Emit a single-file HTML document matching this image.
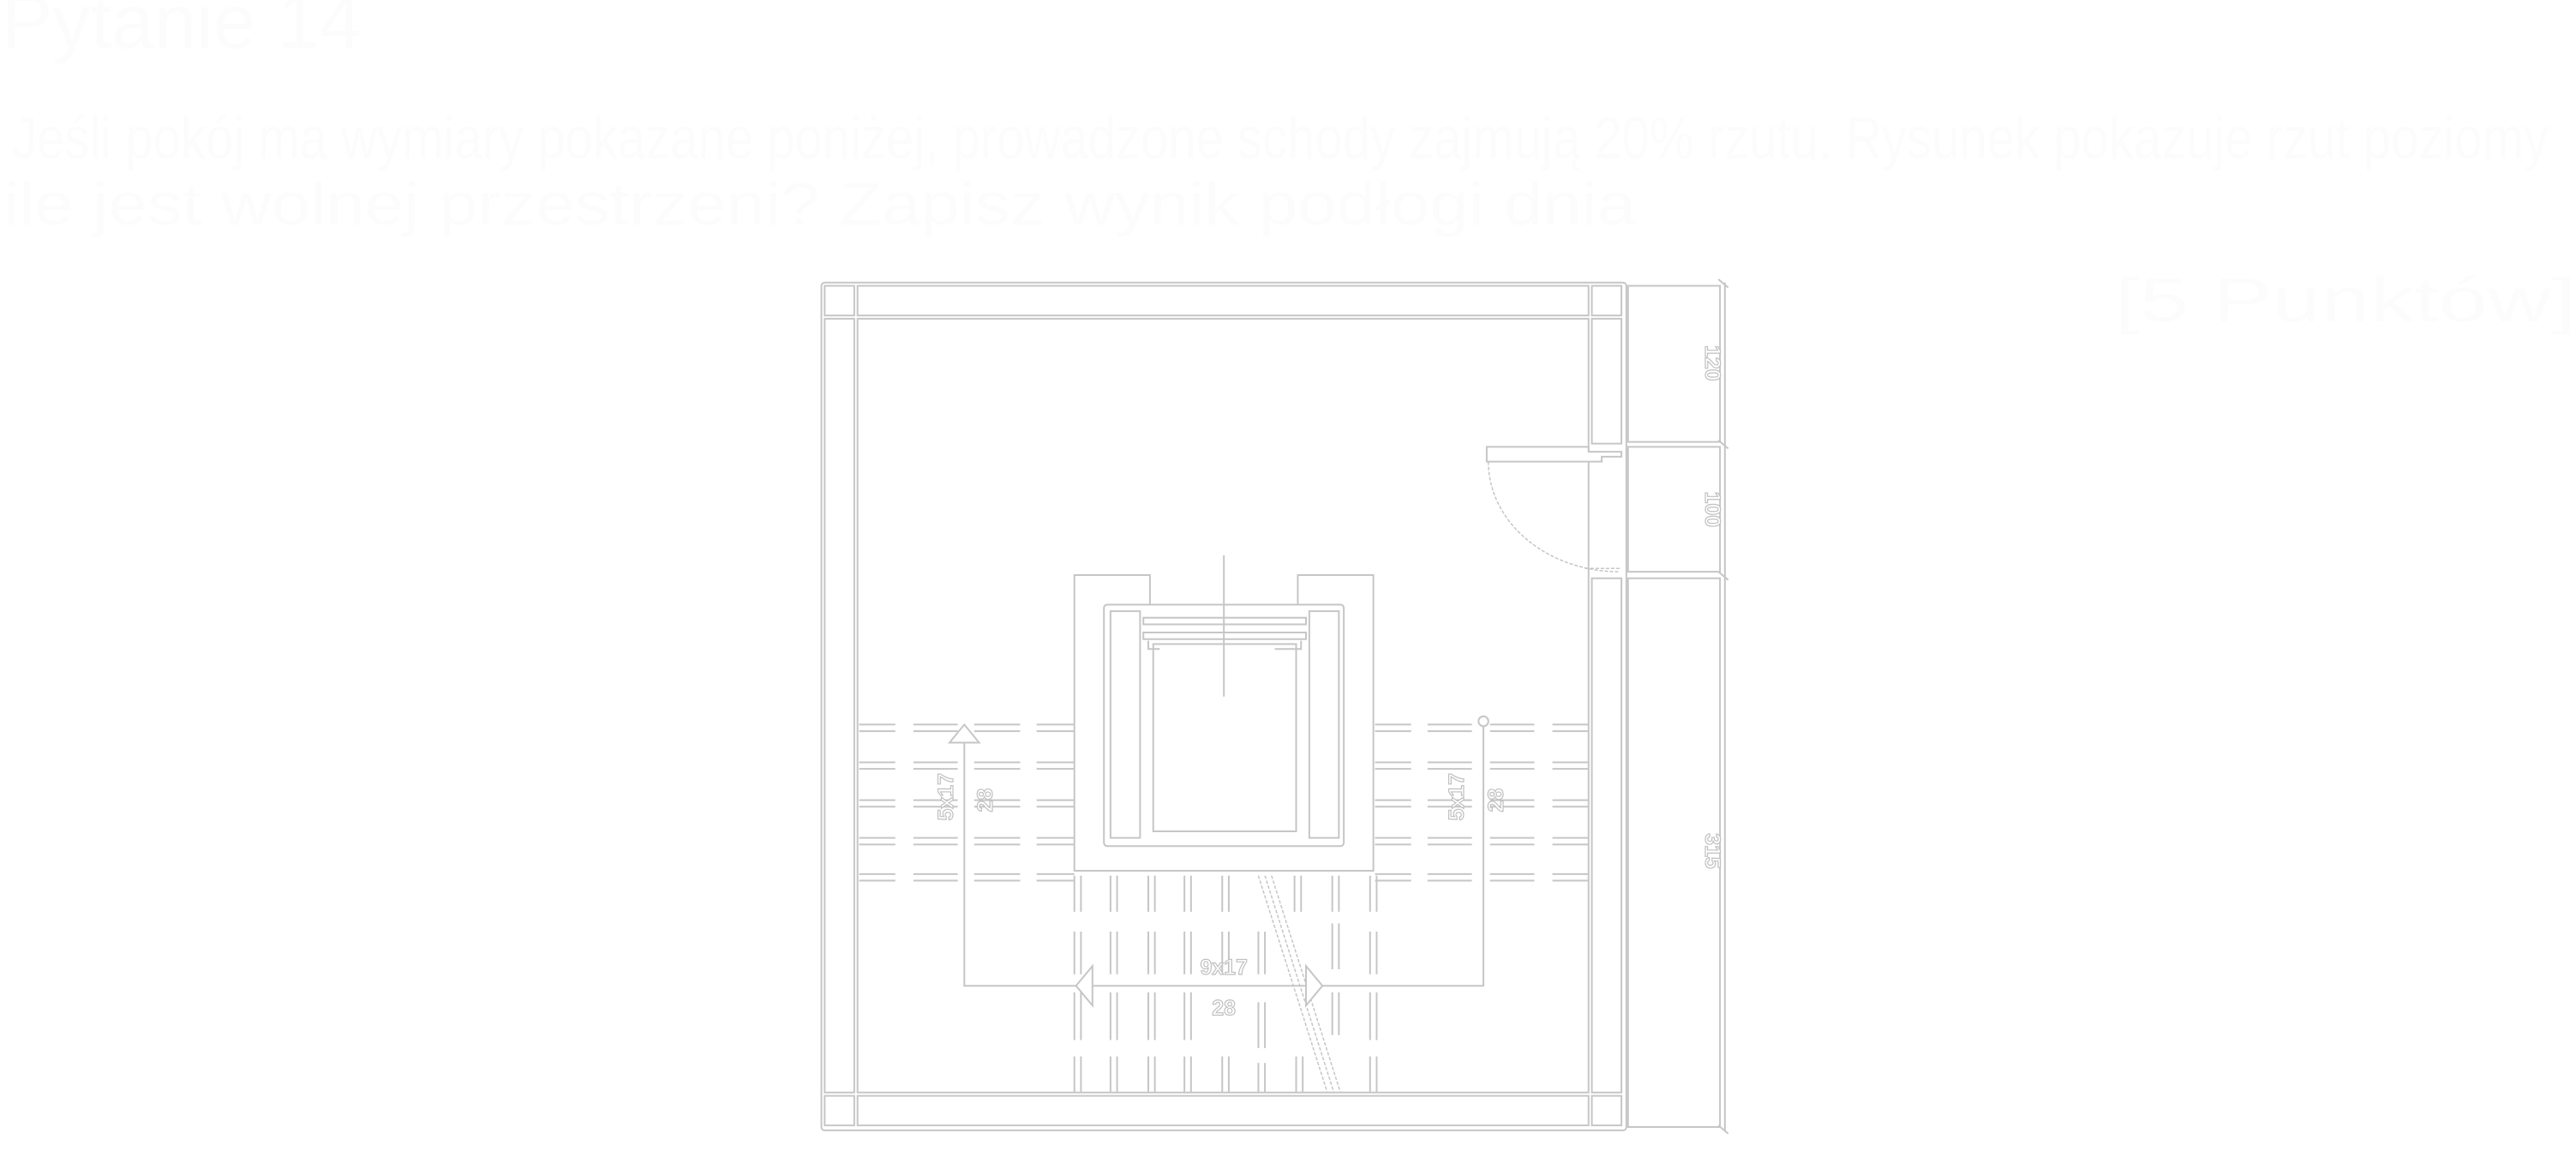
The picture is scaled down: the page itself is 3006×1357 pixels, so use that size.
<!DOCTYPE html>
<html><head><meta charset="utf-8"><style>
html,body{margin:0;padding:0;background:#fff;width:3006px;height:1357px;overflow:hidden}
svg{display:block}
.s{fill:#fff;stroke:#c6c6c6;stroke-width:2;vector-effect:non-scaling-stroke}
.l{fill:none;stroke:#c6c6c6;stroke-width:2;vector-effect:non-scaling-stroke}
.d{fill:none;stroke:#c6c6c6;stroke-width:1.5;stroke-dasharray:4 2;vector-effect:non-scaling-stroke}
.t{font-family:"Liberation Sans Narrow","Liberation Sans",sans-serif;fill:#fff;stroke:#c0c0c0;stroke-width:1.2;vector-effect:non-scaling-stroke;font-size:13px;font-weight:bold}
.h{font-family:"Liberation Sans Narrow","Liberation Sans","Noto Sans CJK SC",sans-serif;fill:#fcfcfc}
</style></head><body>
<svg width="3006" height="1357" viewBox="0 0 3006 1357" xmlns="http://www.w3.org/2000/svg">
<text class="h" x="2" y="56" font-size="90" textLength="420" lengthAdjust="spacingAndGlyphs">Pytanie 14</text>
<text class="h" x="14" y="185" font-size="70" textLength="2960" lengthAdjust="spacingAndGlyphs">Jeśli pokój ma wymiary pokazane poniżej, prowadzone schody zajmują 20% rzutu. Rysunek pokazuje rzut poziomy</text>
<text class="h" x="4" y="262" font-size="70" textLength="1905" lengthAdjust="spacingAndGlyphs">ile jest wolnej przestrzeni? Zapisz wynik podłogi dnia</text>
<text class="h" x="2468" y="375" font-size="72" textLength="538" lengthAdjust="spacingAndGlyphs">[5 Punktów]</text>
<g transform="scale(1.917)">
<rect class="s" x="500" y="172" width="490" height="516" rx="2"/>
<rect class="s" x="502" y="174" width="18" height="18"/>
<rect class="s" x="522" y="174" width="445" height="18"/>
<rect class="s" x="969" y="174" width="18" height="18"/>
<rect class="s" x="502" y="194" width="18" height="471"/>
<rect class="s" x="502" y="667" width="18" height="18"/>
<rect class="s" x="522" y="667" width="445" height="18"/>
<rect class="s" x="969" y="667" width="18" height="18"/>
<rect class="s" x="522" y="194" width="445" height="471"/>
<rect class="s" x="969" y="194" width="18" height="76"/>
<rect class="s" x="969" y="352" width="18" height="313"/>
<rect class="s" x="991" y="174" width="56" height="95"/>
<rect class="s" x="991" y="272" width="56" height="76"/>
<rect class="s" x="991" y="352" width="56" height="334"/>
<line class="l" x1="1050" y1="172" x2="1050" y2="688"/>
<path class="l" d="M1046 170 L1052 175 M1046 268 L1052 273 M1046 348 L1052 353 M1046 685 L1052 690"/>
<text class="t" transform="translate(1038,221) rotate(90)" text-anchor="middle">120</text>
<text class="t" transform="translate(1038,310) rotate(90)" text-anchor="middle">100</text>
<text class="t" transform="translate(1038,518) rotate(90)" text-anchor="middle">315</text>
<path class="s" d="M905 272 L967 272 L967 275 L987 275 L987 278 L975 278 L975 281 L905 281 Z"/>
<path class="d" d="M906 281 A80 67 0 0 0 985 348"/>
<line class="d" x1="965" y1="346" x2="987" y2="346"/>
<g>
<path class="l" d="M523 441 H545 M556 441 H583 M593 441 H621 M631 441 H654 M837 441 H859 M869 441 H896 M907 441 H934 M945 441 H967"/>
<path class="l" d="M523 445 H545 M556 445 H583 M593 445 H621 M631 445 H654 M837 445 H859 M869 445 H896 M907 445 H934 M945 445 H967"/>
<path class="l" d="M523 464 H545 M556 464 H583 M593 464 H621 M631 464 H654 M837 464 H859 M869 464 H896 M907 464 H934 M945 464 H967"/>
<path class="l" d="M523 468 H545 M556 468 H583 M593 468 H621 M631 468 H654 M837 468 H859 M869 468 H896 M907 468 H934 M945 468 H967"/>
<path class="l" d="M523 487 H545 M556 487 H583 M593 487 H621 M631 487 H654 M837 487 H859 M869 487 H896 M907 487 H934 M945 487 H967"/>
<path class="l" d="M523 491 H545 M556 491 H583 M593 491 H621 M631 491 H654 M837 491 H859 M869 491 H896 M907 491 H934 M945 491 H967"/>
<path class="l" d="M523 510 H545 M556 510 H583 M593 510 H621 M631 510 H654 M837 510 H859 M869 510 H896 M907 510 H934 M945 510 H967"/>
<path class="l" d="M523 514 H545 M556 514 H583 M593 514 H621 M631 514 H654 M837 514 H859 M869 514 H896 M907 514 H934 M945 514 H967"/>
<path class="l" d="M523 532 H545 M556 532 H583 M593 532 H621 M631 532 H654 M837 532 H859 M869 532 H896 M907 532 H934 M945 532 H967"/>
<path class="l" d="M523 536 H545 M556 536 H583 M593 536 H621 M631 536 H654 M837 536 H859 M869 536 H896 M907 536 H934 M945 536 H967"/>
</g>
<g>
<path class="l" d="M654 533 V555 M658 533 V555 M676 533 V555 M680 533 V555 M699 533 V555 M703 533 V555 M721 533 V555 M725 533 V555 M744 533 V555 M748 533 V555 M788 533 V555 M792 533 V555 M811 533 V555 M815 533 V555 M834 533 V555 M838 533 V555"/>
<path class="l" d="M654 567 V593 M658 567 V593 M676 567 V593 M680 567 V593 M699 567 V593 M703 567 V593 M721 567 V593 M725 567 V593 M744 567 V593 M748 567 V593 M766 567 V593 M770 567 V593 M811 562 V590 M815 562 V590 M834 567 V593 M838 567 V593"/>
<path class="l" d="M654 604 V633 M658 604 V633 M676 604 V633 M680 604 V633 M699 604 V633 M703 604 V633 M721 604 V633 M725 604 V633 M766 610 V638 M770 610 V638 M811 604 V630 M815 604 V630 M834 604 V633 M838 604 V633"/>
<path class="l" d="M654 643 V665 M658 643 V665 M676 643 V665 M680 643 V665 M699 643 V665 M703 643 V665 M721 643 V665 M725 643 V665 M744 643 V665 M748 643 V665 M766 647 V665 M770 647 V665 M789 643 V665 M793 643 V665 M834 643 V665 M838 643 V665"/>
</g>
<path class="s" d="M654 350 H700 V370 H790 V350 H836 V530 H654 Z"/>
<rect class="s" x="672" y="368" width="146" height="147" rx="2"/>
<rect class="s" x="676" y="372" width="18" height="138"/>
<rect class="s" x="797" y="372" width="18" height="138"/>
<rect class="s" x="702" y="392" width="87" height="114"/>
<rect class="s" x="696" y="376" width="99" height="4"/>
<rect class="s" x="696" y="385" width="99" height="4"/>
<path class="l" d="M699 390 V395 H706 M792 390 V395 H776"/>
<line class="l" x1="745" y1="338" x2="745" y2="424"/>
<path class="d" d="M766 533 L808 665 M770 533 L812 665 M774 533 L816 665"/>
<path class="l" d="M587 447 V600 H903 V440"/>
<path class="s" d="M578 452 L587 441 L596 452 Z"/>
<circle class="s" cx="903" cy="439" r="3"/>
<path class="s" d="M665 588 L655 600 L665 612 Z"/>
<path class="s" d="M795 588 L805 600 L795 612 Z"/>
<text class="t" transform="translate(580,485) rotate(-90)" text-anchor="middle">5x17</text>
<text class="t" transform="translate(604,487) rotate(-90)" text-anchor="middle">28</text>
<text class="t" transform="translate(891,485) rotate(-90)" text-anchor="middle">5x17</text>
<text class="t" transform="translate(915,487) rotate(-90)" text-anchor="middle">28</text>
<text class="t" x="745" y="593" text-anchor="middle">9x17</text>
<text class="t" x="745" y="618" text-anchor="middle">28</text>
</g>
</svg>
</body></html>
